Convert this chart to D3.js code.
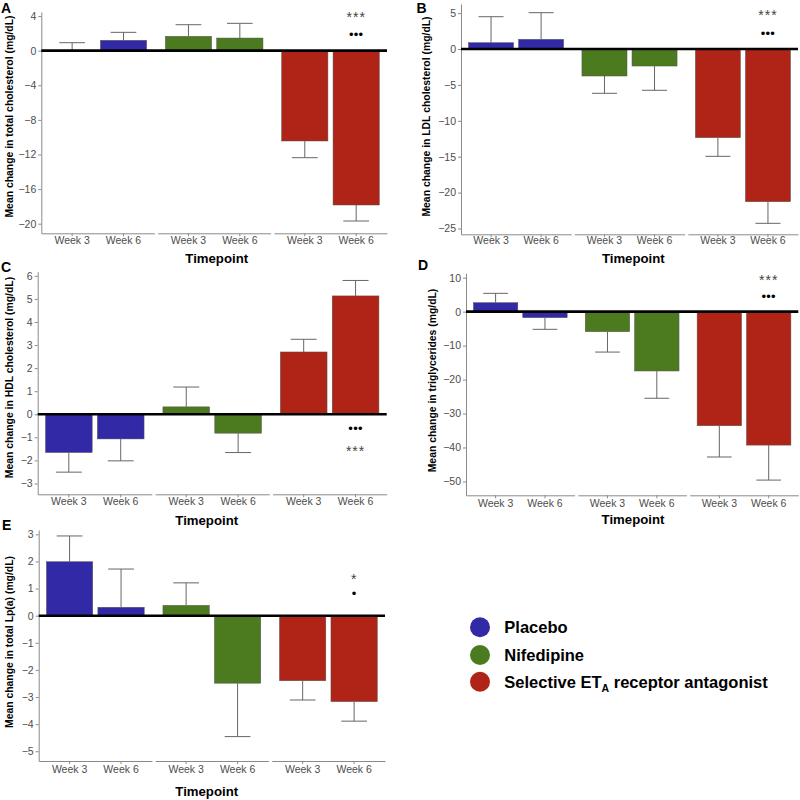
<!DOCTYPE html>
<html><head><meta charset="utf-8">
<script src="https://cdn.jsdelivr.net/npm/d3@7"></script>
<style>body{margin:0;background:#fff} svg{display:block}</style>
</head><body>
<svg id="chart" width="800" height="800"></svg>
<script>
// ---------- data ----------
const timepoints = ["Week 3", "Week 6"];
const treatments = ["Placebo", "Nifedipine", "Selective ETA receptor antagonist"];
// values ordered: Placebo W3, Placebo W6, Nifedipine W3, Nifedipine W6, ETA W3, ETA W6
const totalCholMean = [0.02, 1.20, 1.66, 1.46, -10.44, -17.84];
const totalCholSE   = [0.90, 0.92, 1.34, 1.70, 1.93, 1.85];
const ldlMean = [0.88, 1.35, -3.76, -2.37, -12.35, -21.27];
const ldlSE   = [3.62, 3.71, 2.41, 3.38, 2.60, 3.01];
const hdlMean = [-1.66, -1.07, 0.32, -0.82, 2.70, 5.13];
const hdlSE   = [0.85, 0.95, 0.86, 0.84, 0.55, 0.67];
const trigMean = [2.65, -1.77, -5.90, -17.47, -33.60, -39.30];
const trigSE   = [2.75, 3.43, 6.00, 8.03, 9.20, 10.30];
const lpaMean = [1.99, 0.31, 0.38, -2.49, -2.40, -3.17];
const lpaSE   = [0.95, 1.41, 0.83, 1.97, 0.71, 0.72];

const ticksTotalChol = [4, 0, -4, -8, -12, -16, -20];
const ticksLDL = [5, 0, -5, -10, -15, -20, -25];
const ticksHDL = [6, 5, 4, 3, 2, 1, 0, -1, -2, -3];
const ticksTrig = [10, 0, -10, -20, -30, -40, -50];
const ticksLpa = [3, 2, 1, 0, -1, -2, -3, -4, -5];

const sigTotalChol = ["***", "•••"];
const sigLDL = ["***", "•••"];
const sigHDL = ["•••", "***"];
const sigTrig = ["***", "•••"];
const sigLpa = ["*", "•"];

const colors = ["#3229a6", "#4b7a1f", "#b02418"];

// ---------- layout ----------
const panels = [
  {letter:"A", title:"Mean change in total cholesterol (mg/dL)", mean:totalCholMean, se:totalCholSE, ticks:ticksTotalChol,
   domain:[-21.11, 4.47], l:41.3, r:387, t:12, b:233.3, letterX:1, letterY:13, titleX:9.3, titleY:116.5,
   xlabY:244, tpX:216.7, tpY:263.3, sig:sigTotalChol, sigY:[15, 34]},
  {letter:"B", title:"Mean change in LDL cholesterol (mg/dL)", mean:ldlMean, se:ldlSE, ticks:ticksLDL,
   domain:[-25.81, 6.27], l:461, r:798, t:4, b:234.3, letterX:416.5, letterY:13, titleX:426.7, titleY:116.5,
   xlabY:244.5, tpX:633.3, tpY:263.3, sig:sigLDL, sigY:[13.3, 33.3]},
  {letter:"C", title:"Mean change in HDL cholesterol (mg/dL)", mean:hdlMean, se:hdlSE, ticks:ticksHDL,
   domain:[-3.47, 6.18], l:37.7, r:386.7, t:271.7, b:494.3, letterX:1, letterY:272, titleX:9, titleY:377.5,
   xlabY:505, tpX:206.7, tpY:525, sig:sigHDL, sigY:[428.3, 449]},
  {letter:"D", title:"Mean change in triglycerides (mg/dL)", mean:trigMean, se:trigSE, ticks:ticksTrig,
   domain:[-54.08, 11.3], l:466, r:798.3, t:273.3, b:495.3, letterX:418, letterY:270, titleX:432.3, titleY:380.5,
   xlabY:506.7, tpX:633, tpY:524, sig:sigTrig, sigY:[278.3, 296]},
  {letter:"E", title:"Mean change in total Lp(a) (mg/dL)", mean:lpaMean, se:lpaSE, ticks:ticksLpa,
   domain:[-5.36, 3.16], l:38.7, r:385, t:530, b:761, letterX:2, letterY:530, titleX:9, titleY:642,
   xlabY:773.3, tpX:206.7, tpY:796, sig:sigLpa, sigY:[577.3, 593.7]}
];

const svg = d3.select("#chart");
const FONT = "'Liberation Sans', Arial, Helvetica, sans-serif";
const axisGray = "#8a8a8a";
const gap = 3.3;

panels.forEach(p => {
  const g = svg.append("g");
  const y = d3.scaleLinear().domain(p.domain).range([p.b, p.t]);
  const W = p.r - p.l;
  const facetW = (W - 2 * gap) / 3;
  const fx = d3.scaleBand().domain(treatments).range([p.l, p.r])
    .paddingInner(gap / (facetW + gap)).paddingOuter(0);
  const ix = d3.scaleBand().domain(timepoints).range([0, fx.bandwidth()])
    .paddingInner(0.1).paddingOuter(0.15);
  const capW = ix.bandwidth() * 0.5 / 0.9;

  const rows = [];
  treatments.forEach((tr, i) => timepoints.forEach((tp, j) => {
    const k = i * 2 + j;
    rows.push({tr, tp, i, mean: p.mean[k], se: p.se[k]});
  }));

  // y axis
  const ya = g.append("g").attr("transform", `translate(${p.l},0)`)
    .call(d3.axisLeft(y).tickValues(p.ticks).tickSize(3).tickSizeOuter(0)
      .tickFormat(d => d < 0 ? "\u2212" + Math.abs(d) : String(d)));
  ya.select(".domain").attr("stroke", axisGray);
  ya.selectAll(".tick line").attr("stroke", axisGray);
  ya.selectAll(".tick text").attr("fill", "#4d4d4d").attr("font-size", 10.5)
    .attr("font-family", FONT).attr("x", -5);

  // x axes per facet
  treatments.forEach(tr => {
    const xa = g.append("g").attr("transform", `translate(${fx(tr)},${p.b})`)
      .call(d3.axisBottom(ix).tickSize(3).tickSizeOuter(0));
    xa.select(".domain").attr("stroke", axisGray);
    xa.selectAll(".tick line").attr("stroke", axisGray);
    xa.selectAll(".tick text").attr("fill", "#4d4d4d").attr("font-size", 10.5)
      .attr("font-family", FONT).attr("dy", null).attr("y", p.xlabY - p.b);
  });

  // bars
  g.selectAll("rect.bar").data(rows).join("rect").attr("class", "bar")
    .attr("x", d => fx(d.tr) + ix(d.tp))
    .attr("width", ix.bandwidth())
    .attr("y", d => y(Math.max(0, d.mean)))
    .attr("height", d => Math.abs(y(d.mean) - y(0)))
    .attr("fill", d => colors[d.i])
    .attr("stroke", "#555").attr("stroke-width", 0.5);

  // error bars (outward from bar end)
  const eb = g.selectAll("g.eb").data(rows).join("g").attr("class", "eb")
    .attr("stroke", "#666").attr("stroke-width", 1);
  const endV = d => d.mean + (d.mean >= 0 ? d.se : -d.se);
  const cx = d => fx(d.tr) + ix(d.tp) + ix.bandwidth() / 2;
  eb.append("line").attr("x1", cx).attr("x2", cx)
    .attr("y1", d => y(d.mean)).attr("y2", d => y(endV(d)));
  eb.append("line").attr("x1", d => cx(d) - capW / 2).attr("x2", d => cx(d) + capW / 2)
    .attr("y1", d => y(endV(d))).attr("y2", d => y(endV(d)));

  // zero line
  g.append("line").attr("x1", p.l).attr("x2", p.r).attr("y1", y(0)).attr("y2", y(0))
    .attr("stroke", "#000").attr("stroke-width", 2.6);

  // significance labels above/below ETA week 6
  const sx = fx(treatments[2]) + ix(timepoints[1]) + ix.bandwidth() / 2;
  p.sig.forEach((s, k) => {
    const isStar = s.indexOf("*") >= 0;
    g.append("text").attr("x", sx).attr("y", p.sigY[k] + (isStar ? 7 : 4.5))
      .attr("text-anchor", "middle").attr("font-family", FONT)
      .attr("font-size", isStar ? 14 : 13)
      .attr("letter-spacing", isStar ? 1 : 0.3)
      .attr("fill", isStar ? "#444" : "#000")
      .text(s);
  });

  // panel letter
  g.append("text").attr("x", p.letterX).attr("y", p.letterY)
    .attr("font-family", FONT).attr("font-weight", "bold").attr("font-size", 14).text(p.letter);

  // y title
  g.append("text").attr("transform", `translate(${p.titleX},${p.titleY}) rotate(-90)`)
    .attr("text-anchor", "middle").attr("dy", "0.35em")
    .attr("font-family", FONT).attr("font-weight", "bold").attr("font-size", 10.4).text(p.title);

  // x title
  g.append("text").attr("x", p.tpX).attr("y", p.tpY).attr("text-anchor", "middle")
    .attr("font-family", FONT).attr("font-weight", "bold").attr("font-size", 13.2).text("Timepoint");
});

// ---------- legend ----------
const legendY = [627.3, 655, 681.7];
const lg = svg.append("g");
treatments.forEach((tr, i) => {
  lg.append("circle").attr("cx", 480).attr("cy", legendY[i]).attr("r", 10).attr("fill", colors[i]);
  const t = lg.append("text").attr("x", 504.3).attr("y", legendY[i] + 6)
    .attr("font-family", FONT).attr("font-weight", "bold").attr("font-size", 16.5).attr("fill", "#000");
  if (tr.indexOf("ETA") >= 0) {
    const [pre, post] = tr.split("ETA");
    t.append("tspan").text(pre + "ET");
    t.append("tspan").attr("dy", 4).attr("font-size", 10.5).text("A");
    t.append("tspan").attr("dy", -4).text(post);
  } else {
    t.text(tr);
  }
});
</script>
</body></html>
